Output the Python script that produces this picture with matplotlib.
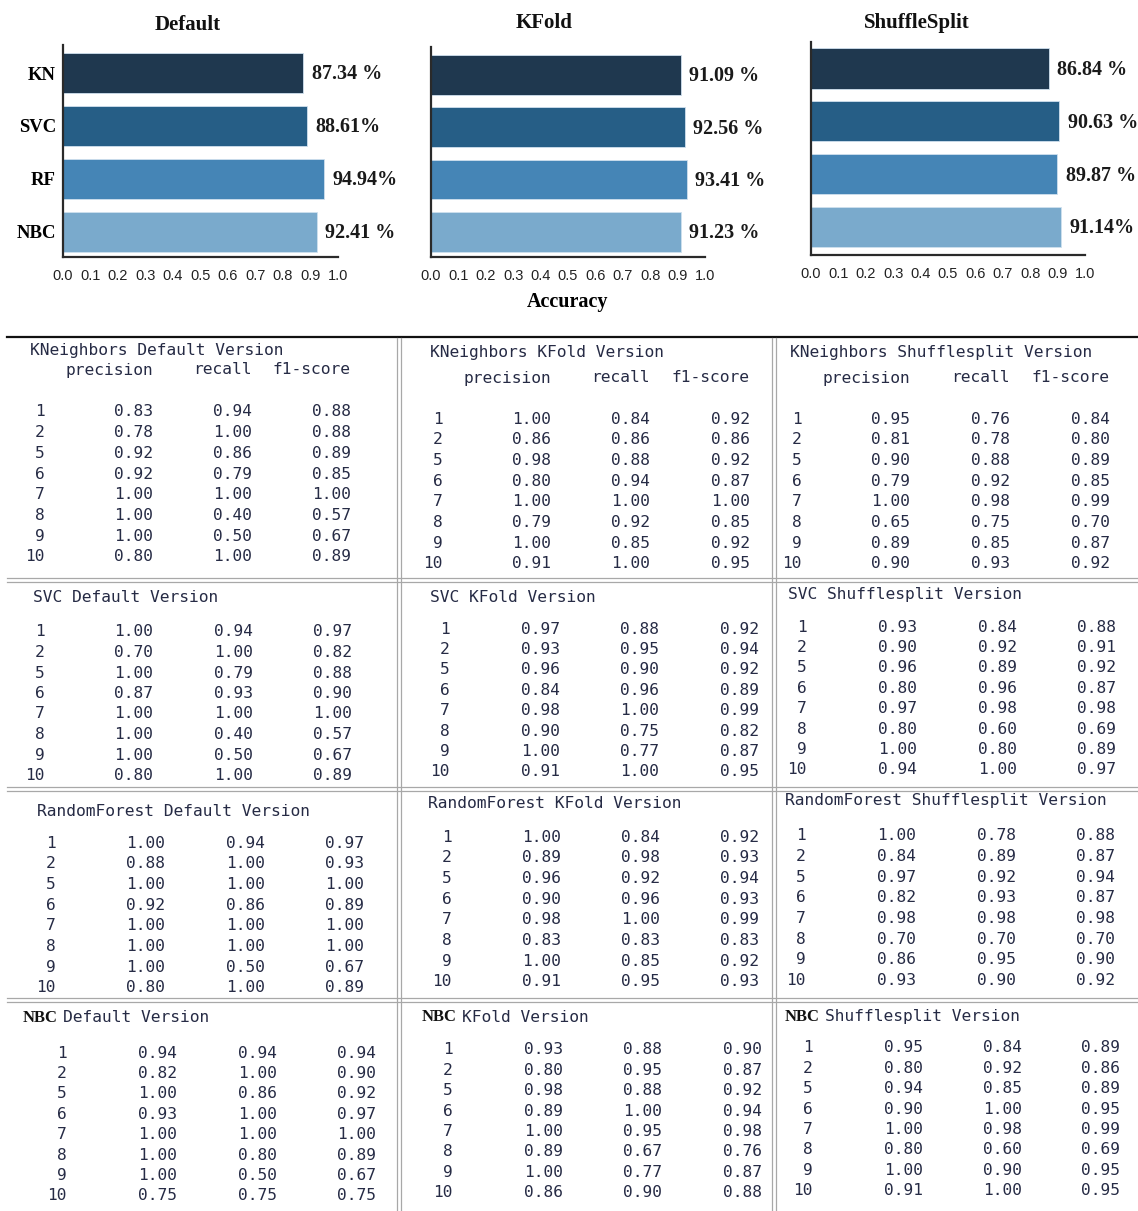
import matplotlib
matplotlib.use("Agg")
import matplotlib.pyplot as plt
import numpy as np

W, H = 1138, 1211

# accuracy per model and validation scheme
models = ["KN", "SVC", "RF", "NBC"]
acc_default = [0.8734, 0.8861, 0.9494, 0.9241]
acc_kfold = [0.9109, 0.9256, 0.9341, 0.9123]
acc_shuffle = [0.8684, 0.9063, 0.8987, 0.9114]
# how the percent sign is spaced in each label
sep_default = [" ", "", "", " "]
sep_kfold = [" ", " ", " ", " "]
sep_shuffle = [" ", " ", " ", ""]

bar_colors = ["#1f384f", "#265e86", "#4585b6", "#7aaacc"]

# per-class classification reports
classes = ["1", "2", "5", "6", "7", "8", "9", "10"]

kn_default_p = [0.83, 0.78, 0.92, 0.92, 1.00, 1.00, 1.00, 0.80]
kn_default_r = [0.94, 1.00, 0.86, 0.79, 1.00, 0.40, 0.50, 1.00]
kn_default_f = [0.88, 0.88, 0.89, 0.85, 1.00, 0.57, 0.67, 0.89]
kn_kfold_p = [1.00, 0.86, 0.98, 0.80, 1.00, 0.79, 1.00, 0.91]
kn_kfold_r = [0.84, 0.86, 0.88, 0.94, 1.00, 0.92, 0.85, 1.00]
kn_kfold_f = [0.92, 0.86, 0.92, 0.87, 1.00, 0.85, 0.92, 0.95]
kn_shuffle_p = [0.95, 0.81, 0.90, 0.79, 1.00, 0.65, 0.89, 0.90]
kn_shuffle_r = [0.76, 0.78, 0.88, 0.92, 0.98, 0.75, 0.85, 0.93]
kn_shuffle_f = [0.84, 0.80, 0.89, 0.85, 0.99, 0.70, 0.87, 0.92]

svc_default_p = [1.00, 0.70, 1.00, 0.87, 1.00, 1.00, 1.00, 0.80]
svc_default_r = [0.94, 1.00, 0.79, 0.93, 1.00, 0.40, 0.50, 1.00]
svc_default_f = [0.97, 0.82, 0.88, 0.90, 1.00, 0.57, 0.67, 0.89]
svc_kfold_p = [0.97, 0.93, 0.96, 0.84, 0.98, 0.90, 1.00, 0.91]
svc_kfold_r = [0.88, 0.95, 0.90, 0.96, 1.00, 0.75, 0.77, 1.00]
svc_kfold_f = [0.92, 0.94, 0.92, 0.89, 0.99, 0.82, 0.87, 0.95]
svc_shuffle_p = [0.93, 0.90, 0.96, 0.80, 0.97, 0.80, 1.00, 0.94]
svc_shuffle_r = [0.84, 0.92, 0.89, 0.96, 0.98, 0.60, 0.80, 1.00]
svc_shuffle_f = [0.88, 0.91, 0.92, 0.87, 0.98, 0.69, 0.89, 0.97]

rf_default_p = [1.00, 0.88, 1.00, 0.92, 1.00, 1.00, 1.00, 0.80]
rf_default_r = [0.94, 1.00, 1.00, 0.86, 1.00, 1.00, 0.50, 1.00]
rf_default_f = [0.97, 0.93, 1.00, 0.89, 1.00, 1.00, 0.67, 0.89]
rf_kfold_p = [1.00, 0.89, 0.96, 0.90, 0.98, 0.83, 1.00, 0.91]
rf_kfold_r = [0.84, 0.98, 0.92, 0.96, 1.00, 0.83, 0.85, 0.95]
rf_kfold_f = [0.92, 0.93, 0.94, 0.93, 0.99, 0.83, 0.92, 0.93]
rf_shuffle_p = [1.00, 0.84, 0.97, 0.82, 0.98, 0.70, 0.86, 0.93]
rf_shuffle_r = [0.78, 0.89, 0.92, 0.93, 0.98, 0.70, 0.95, 0.90]
rf_shuffle_f = [0.88, 0.87, 0.94, 0.87, 0.98, 0.70, 0.90, 0.92]

nbc_default_p = [0.94, 0.82, 1.00, 0.93, 1.00, 1.00, 1.00, 0.75]
nbc_default_r = [0.94, 1.00, 0.86, 1.00, 1.00, 0.80, 0.50, 0.75]
nbc_default_f = [0.94, 0.90, 0.92, 0.97, 1.00, 0.89, 0.67, 0.75]
nbc_kfold_p = [0.93, 0.80, 0.98, 0.89, 1.00, 0.89, 1.00, 0.86]
nbc_kfold_r = [0.88, 0.95, 0.88, 1.00, 0.95, 0.67, 0.77, 0.90]
nbc_kfold_f = [0.90, 0.87, 0.92, 0.94, 0.98, 0.76, 0.87, 0.88]
nbc_shuffle_p = [0.95, 0.80, 0.94, 0.90, 1.00, 0.80, 1.00, 0.91]
nbc_shuffle_r = [0.84, 0.92, 0.85, 1.00, 0.98, 0.60, 0.90, 1.00]
nbc_shuffle_f = [0.89, 0.86, 0.89, 0.95, 0.99, 0.69, 0.95, 0.95]

SERIF = ["Liberation Serif", "DejaVu Serif"]
MONO = "DejaVu Sans Mono"
TXT = "#262b45"

fig = plt.figure(figsize=(W / 100, H / 100), dpi=100)

# background axes in pixel units for the report grid
bg = fig.add_axes([0, 0, 1, 1])
bg.set_xlim(0, W)
bg.set_ylim(H, 0)
bg.axis("off")


def px_axes(left, top, right, bottom):
    return fig.add_axes([left / W, 1 - bottom / H, (right - left) / W, (bottom - top) / H])


def bar_panel(box, ylim, values, seps, title, title_pos, show_names=False, xlabel=None):
    ax = px_axes(*box)
    y = np.arange(len(models))
    ax.barh(y, values, height=0.76, color=bar_colors, edgecolor="#cfe0ee", linewidth=0.6)
    ax.set_xlim(0, 1.0)
    ax.set_ylim(*ylim)
    for sp in ["top", "right"]:
        ax.spines[sp].set_visible(False)
    for sp in ["left", "bottom"]:
        ax.spines[sp].set_color("#2a2a2a")
        ax.spines[sp].set_linewidth(1.6)
    ax.set_xticks(np.arange(0, 1.01, 0.1))
    ax.set_xticklabels([f"{t:.1f}" for t in np.arange(0, 1.01, 0.1)],
                       fontsize=10.5, family="Liberation Sans", color="#222222")
    ax.tick_params(axis="x", length=0, pad=9)
    ax.set_yticks(y)
    if show_names:
        ax.set_yticklabels(models, fontsize=13.5, family=SERIF, fontweight="bold")
        ax.tick_params(axis="y", length=0, pad=5)
    else:
        ax.set_yticklabels([])
        ax.tick_params(axis="y", length=0)
    # title placed in pixel coordinates above each panel
    bg.text(title_pos[0], title_pos[1], title, ha="center", va="center", fontsize=15,
            family=SERIF, fontweight="bold", color="#111111")
    if xlabel:
        ax.set_xlabel(xlabel, fontsize=14.5, family=SERIF, fontweight="bold", labelpad=6)
    for yi, v, s in zip(y, values, seps):
        ax.annotate(f"{v * 100:.2f}{s}%", (v, yi), xytext=(6, -1), textcoords="offset points",
                    va="center", ha="left", fontsize=14.5, family=SERIF, fontweight="bold",
                    color="#1a1a1a")
    return ax


bar_panel((63, 45, 338, 257), (3.48, -0.53), acc_default, sep_default, "Default", (188, 25),
          show_names=True)
bar_panel((431, 47, 705, 257), (3.48, -0.53), acc_kfold, sep_kfold, "KFold", (544, 23),
          xlabel="Accuracy")
bar_panel((811, 42, 1085, 255), (3.53, -0.50), acc_shuffle, sep_shuffle, "ShuffleSplit", (917, 23))

# grid lines of the report block
bg.plot([7, W], [337, 337], color="#111111", lw=1.6)
for yy in [580, 789, 1000]:
    for off in (-2, 2):
        bg.plot([7, W], [yy + off, yy + off], color="#a8a8a8", lw=0.9)
for xx in [399, 774]:
    for off in (-2, 2):
        bg.plot([xx + off, xx + off], [338, H], color="#a8a8a8", lw=0.9)

# report panels: (name, version, p, r, f, title_x, title_y, idx_x, col_xs, row0, step, header_y)
panels = [
    ("KNeighbors", "Default", kn_default_p, kn_default_r, kn_default_f, 30, 350, 45, (153, 252, 351), 412, 20.7, 370),
    ("KNeighbors", "KFold", kn_kfold_p, kn_kfold_r, kn_kfold_f, 430, 352, 443, (551, 650, 750), 419, 20.7, 378),
    ("KNeighbors", "Shufflesplit", kn_shuffle_p, kn_shuffle_r, kn_shuffle_f, 790, 352, 802, (910, 1010, 1110), 419, 20.7, 378),
    ("SVC", "Default", svc_default_p, svc_default_r, svc_default_f, 33, 598, 45, (153, 253, 352), 632, 20.5, None),
    ("SVC", "KFold", svc_kfold_p, svc_kfold_r, svc_kfold_f, 430, 597, 450, (560, 659, 759), 629, 20.4, None),
    ("SVC", "Shufflesplit", svc_shuffle_p, svc_shuffle_r, svc_shuffle_f, 788, 595, 807, (917, 1017, 1116), 627, 20.4, None),
    ("RandomForest", "Default", rf_default_p, rf_default_r, rf_default_f, 37, 811, 56, (165, 265, 364), 843, 20.7, None),
    ("RandomForest", "KFold", rf_kfold_p, rf_kfold_r, rf_kfold_f, 428, 803, 452, (561, 660, 759), 837, 20.7, None),
    ("RandomForest", "Shufflesplit", rf_shuffle_p, rf_shuffle_r, rf_shuffle_f, 785, 801, 806, (916, 1016, 1115), 836, 20.6, None),
    ("NBC", "Default", nbc_default_p, nbc_default_r, nbc_default_f, 23, 1018, 67, (177, 277, 376), 1053, 20.4, None),
    ("NBC", "KFold", nbc_kfold_p, nbc_kfold_r, nbc_kfold_f, 422, 1017, 453, (563, 662, 762), 1050, 20.4, None),
    ("NBC", "Shufflesplit", nbc_shuffle_p, nbc_shuffle_r, nbc_shuffle_f, 785, 1017, 813, (923, 1022, 1120), 1048, 20.4, None),
]

mono_kw = dict(family=MONO, fontsize=11.7, color=TXT)

for name, version, p, r, f, tx, ty, ix, cols, row0, step, head_y in panels:
    if name == "NBC":
        t = bg.text(tx, ty, "NBC", ha="left", va="center", fontsize=12, family=SERIF,
                    fontweight="bold", color="#111111")
        bg.annotate(f"{version} Version", xy=(1, 0.5), xycoords=t, xytext=(4, 0),
                    textcoords="offset points", ha="left", va="center", **mono_kw)
    else:
        bg.text(tx, ty, f"{name} {version} Version", ha="left", va="center", **mono_kw)
    if head_y is not None:
        for cx, h in zip(cols, ["precision", "recall", "f1-score"]):
            bg.text(cx, head_y, h, ha="right", va="center", **mono_kw)
    for i, c in enumerate(classes):
        yy = row0 + i * step
        bg.text(ix, yy, c, ha="right", va="center", **mono_kw)
        for cx, vals in zip(cols, (p, r, f)):
            bg.text(cx, yy, f"{vals[i]:.2f}", ha="right", va="center", **mono_kw)

fig.savefig("out.png", dpi=100, facecolor="white")
